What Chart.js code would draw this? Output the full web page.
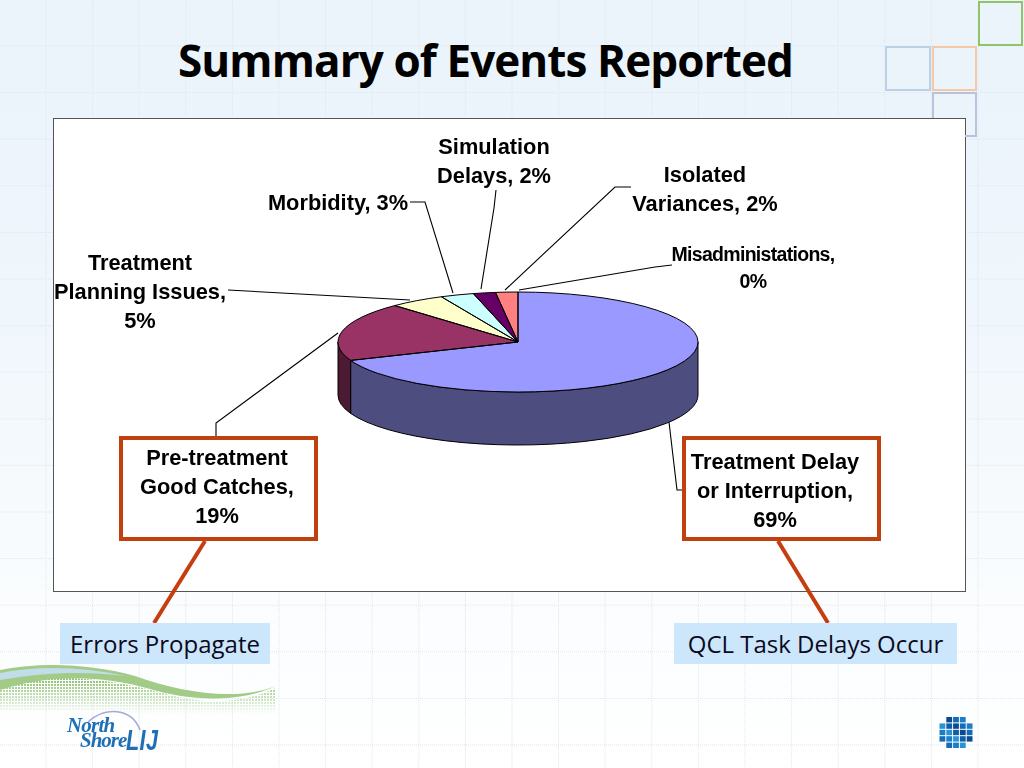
<!DOCTYPE html>
<html>
<head>
<meta charset="utf-8">
<script src="https://cdn.jsdelivr.net/npm/chart.js@4/dist/chart.umd.min.js"></script>
<style>
html,body{margin:0;padding:0;width:1024px;height:768px;overflow:hidden}
#stage{position:relative;width:1024px;height:768px;overflow:hidden;
 background:linear-gradient(180deg,#ebf3fb 0,#eff6fc 300px,#fbfdfe 620px,#ffffff 768px)}
#stage>*{position:absolute}
#grid{left:0;top:0;width:1024px;height:768px}
#title{left:178px;top:30px;font:bold 44px/60px "Open Sans",sans-serif;color:#000;letter-spacing:-.9px;white-space:nowrap}
#panel{left:53px;top:118px;width:911px;height:472px;background:#fff;border:1px solid #555}
#chartWrap{left:0;top:0;width:1024px;height:768px}
#lines{left:0;top:0;width:1024px;height:768px}
.box{background:#fff;border:4px solid #c0400f;box-sizing:border-box}
.lbl{transform:translateX(-50%);text-align:center;font:bold 21.8px/29px "Liberation Sans",Arial,sans-serif;color:#000;white-space:nowrap}
.tag{background:#cce6fb;color:#0a0a1e;font:24px/41px "Open Sans",sans-serif;text-align:center;white-space:nowrap}
#logo1,#logo2,#logo3{font-family:"Liberation Serif",serif;font-style:italic;font-weight:bold;color:#1f6fb5;white-space:nowrap}
</style>
</head>
<body>
<div id="stage">
<svg id="grid" viewBox="0 0 1024 768"></svg>
<div id="title">Summary of Events Reported</div>
<div id="panel"></div>
<svg id="lines" viewBox="0 0 1024 768">
 <g fill="none" stroke="#000" stroke-width="1.1">
  <polyline points="410,202 425,202 453,293"/>
  <polyline points="496,190 494,208 481,289"/>
  <polyline points="631,187 615,187 505,290"/>
  <polyline points="672,265 655,267 519,290"/>
  <polyline points="228,290 410,300"/>
  <polyline points="216,437 216,423 338,333"/>
  <polyline points="669,422 677,490 690,490"/>
 </g>
</svg>
<div class="box" style="left:118.5px;top:435.5px;width:199px;height:105.5px"></div>
<div class="box" style="left:681.5px;top:435.5px;width:199px;height:105.5px"></div>
<div id="chartWrap"><canvas id="pie" width="1024" height="768"></canvas></div>
<div id="labels"></div>
<svg id="conn" style="left:0;top:0" width="1024" height="768" viewBox="0 0 1024 768">
 <line x1="205" y1="541" x2="154" y2="623" stroke="#c63d0f" stroke-width="4"/>
 <line x1="778" y1="541" x2="828" y2="623" stroke="#c63d0f" stroke-width="4"/>
</svg>
<div class="tag" style="left:60px;top:623px;width:210px;height:41px">Errors Propagate</div>
<div class="tag" style="left:674px;top:623px;width:283px;height:41px">QCL Task Delays Occur</div>
<svg id="swoosh" style="left:0;top:655px" width="280" height="70" viewBox="0 655 280 70">
 <defs>
  <pattern id="dots" width="3" height="3" patternUnits="userSpaceOnUse"><rect width="2" height="2" fill="#98c67a"/></pattern>
  <linearGradient id="fade" gradientUnits="userSpaceOnUse" x1="0" y1="682" x2="0" y2="714"><stop offset="0" stop-color="#fff" stop-opacity="1"/><stop offset="1" stop-color="#fff" stop-opacity="0"/></linearGradient>
  <mask id="m" maskUnits="userSpaceOnUse" x="0" y="655" width="280" height="70"><rect x="0" y="655" width="280" height="70" fill="url(#fade)"/></mask>
 </defs>
 <path d="M0 683 C50 672 110 678 170 695 C205 705 245 703 276 688 L276 712 C240 720 190 718 150 714 C100 710 50 710 0 710 Z" fill="url(#dots)" mask="url(#m)"/>
 <path d="M0 670 C45 661 95 665 135 676 C180 692 235 702 276 686 C240 703 190 701 150 689 C100 675 50 674 0 690 Z" fill="#a2cb87"/>
 <path d="M0 673 C40 665 85 667 125 676 C85 671 45 672 0 680 Z" fill="#c2dcea"/>
</svg>
<svg id="arc" style="left:60px;top:705px" width="90" height="50" viewBox="60 705 90 50"><path d="M88 722 C105 706 132 708 140 730" fill="none" stroke="#a9a6d8" stroke-width="1.6"/></svg>
<div id="logo1" style="left:67px;top:712px;font-size:21px;line-height:26px;letter-spacing:-.8px">North</div>
<div id="logo2" style="left:80px;top:727px;font-size:21px;line-height:26px;letter-spacing:-1px">Shore</div>
<div id="logo3" style="left:126px;top:724px;font-size:30px;line-height:32px;font-family:'Liberation Sans',sans-serif;letter-spacing:.5px;transform:scaleX(.72);transform-origin:left center">LIJ</div>
<svg id="icon" style="left:936px;top:714px" width="40" height="38" viewBox="936 714 40 38"></svg>
<svg id="deco" style="left:0;top:0" width="1024" height="140" viewBox="0 0 1024 140">
 <g fill="none" stroke-width="2">
  <rect x="979" y="2" width="43" height="43" stroke="#8fc46a"/>
  <rect x="886" y="47" width="44" height="43" stroke="#bcd0e6"/>
  <rect x="933" y="47" width="43" height="43" stroke="#f5c9a6"/>
  <path d="M933 118 V93 H976 V136 H965" stroke="#b9c4dc"/>
 </g>
</svg>
</div>
<script>
const categories = ["Treatment Delay or Interruption","Pre-treatment Good Catches","Treatment Planning Issues","Morbidity","Simulation Delays","Isolated Variances","Misadministations"];
const values = [69,19,5,3,2,2,0];
const sliceColors = ["#9999ff","#993366","#ffffcc","#ccffff","#660066","#ff8080","#ffffff"];
const sideColors = ["#4d4d80","#4d1a33","#808066","#668080","#330033","#804040","#808080"];
const labelLines = [
 ["Treatment Delay","or Interruption,","69%"],
 ["Pre-treatment","Good Catches,","19%"],
 ["Treatment","Planning Issues,","5%"],
 ["Morbidity, 3%"],
 ["Simulation","Delays, 2%"],
 ["Isolated","Variances, 2%"],
 ["Misadministations,","0%"]
];
const labelPos = [[775,447],[217,443],[140,248],[338,188],[494,132],[705,160],[753,241]];

// page furniture
(function(){
 const g=document.getElementById('grid');let s='';
 for(let x=46;x<1024;x+=46.6)s+=`<line x1="${x}" y1="0" x2="${x}" y2="768" stroke="#dfe6ee" stroke-width="1" stroke-dasharray="1 1"/>`;
 for(let y=46;y<768;y+=46.6)s+=`<line x1="0" y1="${y}" x2="1024" y2="${y}" stroke="#dfe6ee" stroke-width="1" stroke-dasharray="1 1"/>`;
 g.innerHTML=s;
 const ic=document.getElementById('icon');
 const shades=['#0f5ea8','#1a7fc9','#0a4a8f','#2a93d8','#136cb5'];let r='';
 for(let j=0;j<5;j++)for(let i=0;i<5;i++){
  if((j==0||j==4)&&(i==0||i==4))continue;
  r+=`<rect x="${939.5+i*6.8}" y="${717+j*6.4}" width="5.8" height="5.4" fill="${shades[(i*2+j*3)%5]}"/>`;
 }
 ic.innerHTML=r;
 const L=document.getElementById('labels');
 labelLines.forEach((ls,i)=>{
  const d=document.createElement('div');d.className='lbl';d.style.position='absolute';
  d.style.left=labelPos[i][0]+'px';d.style.top=labelPos[i][1]+'px';
  if(i==6){d.style.fontSize='19.5px';d.style.lineHeight='27px';d.style.letterSpacing='-.7px';}
  d.innerHTML=ls.join('<br>');L.appendChild(d);
 });
})();

const squash = 50/180, depth = 53;
function squashAbout(ctx,el){ctx.translate(el.x,el.y);ctx.scale(1,squash);ctx.translate(-el.x,-el.y);}
const pie3d = {
 id:'pie3d',
 beforeDatasetsDraw(chart){
  const ctx=chart.ctx, arcs=chart.getDatasetMeta(0).data;
  arcs.forEach((a,i)=>{
   const s=Math.max(a.startAngle,0), e=Math.min(a.endAngle,Math.PI);
   if(e<=s||a.circumference===0)return;
   const r=a.outerRadius, off=depth/squash;
   ctx.save();squashAbout(ctx,a);
   ctx.beginPath();
   ctx.arc(a.x,a.y,r,s,e);
   ctx.arc(a.x,a.y+off,r,e,s,true);
   ctx.closePath();
   ctx.restore();
   ctx.fillStyle=sideColors[i];ctx.fill();
   ctx.strokeStyle='#000';ctx.lineWidth=1;ctx.stroke();
  });
  ctx.save();squashAbout(ctx,arcs[0]);
 },
 afterDatasetsDraw(chart){
  const ctx=chart.ctx, arcs=chart.getDatasetMeta(0).data;
  ctx.restore();
  arcs.forEach(a=>{
   if(a.circumference===0)return;
   ctx.save();squashAbout(ctx,a);
   ctx.beginPath();
   ctx.moveTo(a.x,a.y);
   ctx.arc(a.x,a.y,a.outerRadius,a.startAngle,a.endAngle);
   ctx.closePath();
   ctx.restore();
   ctx.strokeStyle='#000';ctx.lineWidth=1;ctx.stroke();
  });
 }
};
new Chart(document.getElementById('pie'),{
 type:'pie',
 data:{labels:categories,datasets:[{data:values,backgroundColor:sliceColors,borderWidth:0,hoverOffset:0}]},
 options:{
  responsive:false,animation:false,
  events:[],
  layout:{padding:{left:338,right:326,top:162,bottom:246}},
  plugins:{legend:{display:false},tooltip:{enabled:false},title:{display:false}}
 },
 plugins:[pie3d]
});
</script>
</body>
</html>
